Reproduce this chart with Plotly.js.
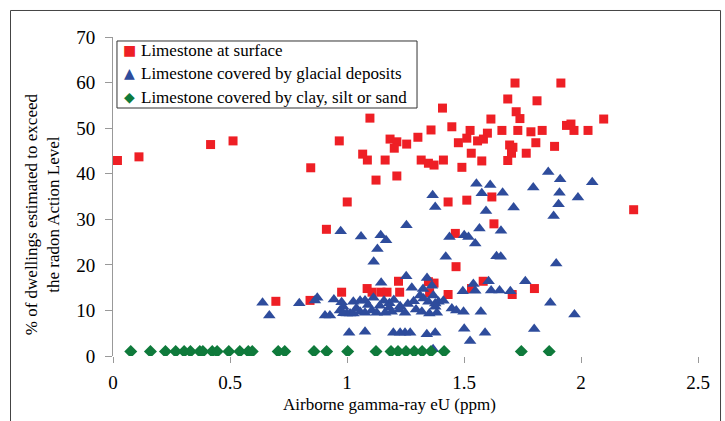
<!DOCTYPE html>
<html>
<head>
<meta charset="utf-8">
<script src="https://cdn.plot.ly/plotly-3.0.1.min.js"></script>
<style>html,body{margin:0;padding:0;background:#fff;}#chart{width:725px;height:421px;}</style>
</head>
<body>
<div id="chart"></div>
<script>
// Series names
const seriesNames = [
  "Limestone at surface",
  "Limestone covered by glacial deposits",
  "Limestone covered by clay, silt or sand"
];
const seriesColors = ["#ee1f25", "#2e4c9c", "#0f7a3b"];
const legendGlyphs = ["\u25A0", "\u25B2", "\u25C6"];

// Limestone at surface (red squares)
const redX = [0.019,0.111,0.417,0.513,0.696,0.845,0.842,0.912,0.967,0.977,1.001,
  1.098,1.067,1.087,1.163,1.124,1.213,1.184,1.213,1.202,1.255,1.303,1.359,1.408,1.448,1.317,1.348,1.372,1.412,1.491,1.476,1.512,1.526,1.558,1.583,1.600,1.615,1.531,1.576,1.662,1.687,1.718,1.723,1.739,1.730,1.786,1.834,1.812,1.695,1.709,1.703,1.687,1.766,1.807,1.887,1.914,1.938,1.957,1.970,2.030,2.097,1.432,1.512,1.619,2.225,
  1.463,1.628,1.466,1.086,1.107,1.145,1.171,1.220,1.225,1.348,1.372,1.353,1.432,1.582,1.532,1.706,1.801];
const redY = [42.9,43.7,46.4,47.2,12.0,41.3,12.2,27.8,47.2,14.0,33.8,
  52.2,44.3,43.0,43.0,38.6,39.5,47.6,47.0,45.6,46.5,48.0,49.6,54.4,50.3,43.0,42.3,41.9,43.0,41.4,46.8,47.8,49.5,47.2,47.6,48.9,52.0,44.5,42.8,49.5,56.4,59.9,53.6,52.1,49.5,49.2,49.5,56.0,46.3,45.8,44.5,42.9,44.5,46.8,46.0,59.9,50.6,50.9,49.5,49.5,52.0,33.8,34.2,34.9,32.1,
  26.9,29.0,19.6,14.8,14.0,14.0,14.0,16.4,14.0,16.3,16.0,13.9,13.5,16.4,14.8,13.5,14.8];

// Limestone covered by glacial deposits (blue triangles)
const blueX = [0.639,0.668,0.796,0.873,0.863,0.906,0.927,0.944,0.973,0.977,0.984,0.970,1.009,1.027,0.999,1.060,
  1.366,1.377,1.254,1.144,1.167,1.130,1.114,1.438,1.422,1.146,1.253,1.342,1.363,1.325,1.277,
  1.056,1.077,1.113,1.158,1.181,1.227,1.312,1.327,1.348,1.377,
  0.984,1.013,1.027,1.056,1.077,1.106,1.127,1.163,1.191,1.224,1.248,1.295,1.320,1.352,1.384,
  1.077,1.198,1.227,1.248,1.270,1.341,1.377,
  1.369,1.391,1.412,1.377,1.448,1.467,1.498,1.572,1.495,1.540,1.548,1.605,1.616,1.652,1.698,1.762,1.869,
  1.501,1.590,1.526,1.800,1.972,1.368,
  1.860,1.911,2.048,1.553,1.612,1.796,1.576,1.665,1.908,1.987,1.904,1.712,1.594,1.883,1.566,1.658,1.501,1.519,1.548,1.639,1.657,1.894,
  1.090,1.140,1.200,1.260,1.285,1.040,1.180];
const blueY = [11.7,8.9,11.6,12.8,12.2,8.9,8.9,12.4,27.4,11.8,10.8,10.0,5.1,11.9,9.3,26.2,
  35.3,32.7,28.7,26.5,25.4,23.5,20.7,26.1,21.8,16.1,17.5,17.1,15.4,14.7,15.0,
  12.1,12.2,12.8,12.1,11.6,10.9,13.3,12.6,11.9,11.5,
  9.4,9.3,9.3,9.7,9.5,10.0,9.5,9.5,9.7,10.2,9.5,10.2,9.7,9.3,9.5,
  5.3,5.1,5.1,5.1,5.1,4.8,5.1,
  13.3,11.9,12.1,10.8,10.4,10.0,9.7,9.7,14.2,15.8,14.3,16.4,14.4,14.4,14.2,16.4,11.7,
  6.0,5.1,3.3,5.9,9.1,1.5,
  40.4,38.8,38.1,37.8,37.5,37.0,35.7,35.8,35.8,34.8,33.3,32.6,31.8,30.7,28.0,27.5,26.5,26.1,24.7,21.9,21.8,20.3,
  11.2,11.0,12.3,11.4,12.0,10.5,10.6];

// Limestone covered by clay, silt or sand (green diamonds)
const greenX = [0.076,0.160,0.224,0.268,0.304,0.331,0.371,0.384,0.424,0.445,0.495,0.542,0.578,0.595,0.706,0.734,0.859,0.913,1.003,1.124,1.188,1.218,1.252,1.287,1.321,1.359,1.415,1.745,1.864];
const greenY = [1,1,1,1,1,1,1,1,1,1,1,1,1,1,1,1,1,1,1,1,1,1,1,1,1,1,1,1,1];

// Axis ticks
const xTicks = [0, 0.5, 1, 1.5, 2, 2.5];
const xTickText = ["0", "0.5", "1", "1.5", "2", "2.5"];
const yTicks = [0, 10, 20, 30, 40, 50, 60, 70];

const xTitle = "Airborne gamma-ray eU (ppm)";
const yTitle = "% of dwellings estimated to exceed<br>the radon Action Level";

const FONT = "'Liberation Serif', 'DejaVu Serif', serif";

const traces = [
  {x: redX, y: redY, name: seriesNames[0], type: "scatter", mode: "markers",
   marker: {symbol: "square", size: 9, color: seriesColors[0]}},
  {x: blueX, y: blueY, name: seriesNames[1], type: "scatter", mode: "markers",
   marker: {symbol: "triangle-up", size: 11, color: seriesColors[1]}},
  {x: greenX, y: greenY, name: seriesNames[2], type: "scatter", mode: "markers",
   marker: {symbol: "diamond", size: 10, color: seriesColors[2]}}
];

// Legend drawn as a boxed list (paper coordinates)
const legendRowsY = [0.9592, 0.8871, 0.8119];
const legendAnnotations = [];
seriesNames.forEach((name, i) => {
  legendAnnotations.push({
    text: legendGlyphs[i], xref: "paper", yref: "paper", x: 0.0274, y: legendRowsY[i],
    xanchor: "center", yanchor: "middle", showarrow: false,
    font: {family: "DejaVu Sans", size: 14, color: seriesColors[i]}
  });
  legendAnnotations.push({
    text: name, xref: "paper", yref: "paper", x: 0.0444, y: legendRowsY[i],
    xanchor: "left", yanchor: "middle", showarrow: false,
    font: {family: FONT, size: 17, color: "#000"}
  });
});

const layout = {
  width: 725, height: 421,
  margin: {l: 113, r: 27, t: 37, b: 65},
  paper_bgcolor: "#fff", plot_bgcolor: "#fff",
  font: {family: FONT, color: "#000", size: 17},
  showlegend: false,
  xaxis: {
    range: [0, 2.5], tickvals: xTicks, ticktext: xTickText,
    showgrid: false, zeroline: false, showline: false,
    ticks: "outside", ticklen: 6, tickcolor: "#999", tickwidth: 1,
    ticklabelstandoff: 3,
    tickfont: {family: FONT, size: 19, color: "#000"}
  },
  yaxis: {
    range: [0, 70], tickvals: yTicks,
    showgrid: false, zeroline: false, showline: true, linecolor: "#999", linewidth: 1,
    ticks: "outside", ticklen: 7, tickcolor: "#999", tickwidth: 1,
    ticklabelstandoff: 6,
    tickfont: {family: FONT, size: 19, color: "#000"}
  },
  annotations: [
    {text: xTitle, xref: "paper", yref: "paper", x: 0.472, y: -0.1505,
     xanchor: "center", yanchor: "middle", showarrow: false,
     font: {family: FONT, size: 17, color: "#000"}},
    {text: yTitle, xref: "paper", yref: "paper", x: -0.121, y: 0.445,
     xanchor: "center", yanchor: "middle", showarrow: false, textangle: -90,
     font: {family: FONT, size: 17, color: "#000"}}
  ].concat(legendAnnotations),
  shapes: [
    {type: "rect", xref: "paper", yref: "paper",
     x0: -0.1752, x1: 1.0385, y0: -0.25, y1: 1.0831,
     line: {color: "#444", width: 1}, fillcolor: "rgba(0,0,0,0)", layer: "below"},
    {type: "rect", xref: "paper", yref: "paper",
     x0: 0.0068, x1: 0.5197, y0: 0.7774, y1: 0.9875,
     line: {color: "#333", width: 1}, fillcolor: "#fff", layer: "above"}
  ]
};

Plotly.newPlot("chart", traces, layout, {displayModeBar: false, staticPlot: true});
</script>
</body>
</html>
